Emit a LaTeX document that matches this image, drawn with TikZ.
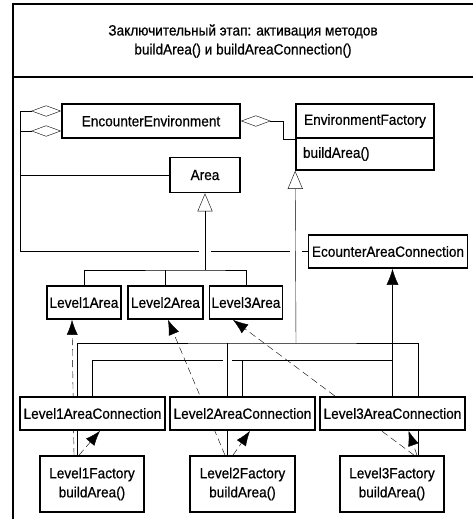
\documentclass[tikz,border=0pt]{standalone}
\usepackage{fontspec}
\setmainfont{Liberation Sans}[FakeStretch=0.92,FakeBold=0.6]
\usetikzlibrary{arrows.meta,backgrounds}

\begin{document}
\begin{tikzpicture}[x=1pt,y=-1pt,line width=1.7pt,
  font=\fontsize{14.8}{19}\selectfont,
  cls/.style={draw,fill=white,minimum height=33pt,inner sep=2pt},
  dep/.style={dash pattern=on 7pt off 4pt,-{Latex[length=15pt,width=11pt]}},
  gen/.style={-{Triangle[open,length=18pt,width=15pt]}},
  agg/.style={{Diamond[open,length=30pt,width=11pt]}-}]

\useasboundingbox (0,0) rectangle (473,519);

% frame with the heading
\draw (13,519) -- (13,4) -- (473,4);
\draw (13,77) -- (473,77);
\node[align=center] (title) at (243,41) {Заключительный этап: активация методов\\buildArea() и buildAreaConnection()};

% classes
\node[cls,minimum width=178pt,minimum height=34pt] (env) at (151,121) {EncounterEnvironment};
\node[cls,minimum width=138pt,minimum height=34pt] (fact) at (365,121) {EnvironmentFactory};
\node[cls,minimum width=138pt,minimum height=32pt,text width=124pt,align=left] (factops) at (365,154) {buildArea()};
\node[cls,minimum width=70pt,minimum height=35pt] (area) at (205,175) {Area};
\node[cls,minimum width=159pt] (conn) at (388,251.5) {EcounterAreaConnection};

\node[cls,minimum width=74pt] (a1) at (84,302.5) {Level1Area};
\node[cls,minimum width=75pt] (a2) at (165.5,302.5) {Level2Area};
\node[cls,minimum width=72pt] (a3) at (246,302.5) {Level3Area};

\node[cls,minimum width=145pt] (c1) at (92.5,413.5) {Level1AreaConnection};
\node[cls,minimum width=145pt] (c2) at (242.5,413.5) {Level2AreaConnection};
\node[cls,minimum width=145pt] (c3) at (392.5,413.5) {Level3AreaConnection};

\node[cls,minimum width=104pt,minimum height=56pt,align=center] (f1) at (92,484) {Level1Factory\\buildArea()};
\node[cls,minimum width=105pt,minimum height=56pt,align=center] (f2) at (242.5,484) {Level2Factory\\buildArea()};
\node[cls,minimum width=104pt,minimum height=56pt,align=center] (f3) at (392,484) {Level3Factory\\buildArea()};

\begin{pgfonlayer}{background}
% aggregations
\draw[agg] ([yshift=10pt]env.west) -| (20,175) -- (area.west);
\draw[agg] ([yshift=-10pt]env.west) -| (20,251.5) -- (199,251.5);
\draw (211,251.5) -- (290,251.5) (302,251.5) -- (conn.west);
\draw[agg] (env.east) -- ++(42,0) |- (fact.south west);

% Area and its subclasses
\coordinate (abar) at (205,270);
\draw[gen] (abar) -- (area.south);
\draw (a1.north) |- (abar) -| (a3.north);
\draw (a2.north) -- (a2.north |- abar);

% factories
\coordinate (fbar) at (296,343);
\draw[gen] (fbar) -- (factops.south west);
\draw ([xshift=-15pt]f1.north) |- (fbar) -| ([xshift=26pt]f3.north);
\draw ([xshift=-15pt]f2.north) -- ([xshift=-15pt]f2.north |- fbar);

% area connections
\coordinate (cbar) at (392.5,360);
\draw[-{Latex[length=16pt,width=12pt]}] (c3.north) -- (c3.north |- conn.south);
\draw (c1.north) |- (223,360) (232,360) -- (cbar);
\draw (c2.north) -- (c2.north |- cbar);

% buildArea() creates
\draw[dep] ([xshift=-18pt]f1.north) -- ([xshift=-12pt]a1.south);
\draw[dep] ([xshift=-17.5pt]f2.north) -- ([xshift=2.5pt]a2.south);
\draw[dep] ([xshift=22pt]f3.north) -- ([xshift=-13pt]a3.south);
\draw[dep] ([xshift=-13pt]f1.north) -- ([xshift=7.5pt]c1.south);
\draw[dep] ([xshift=-9.5pt]f2.north) -- ([xshift=7.5pt]c2.south);
\draw[dep] ([xshift=25pt]f3.north) -- ([xshift=16pt]c3.south);
\end{pgfonlayer}

\end{tikzpicture}
\end{document}
